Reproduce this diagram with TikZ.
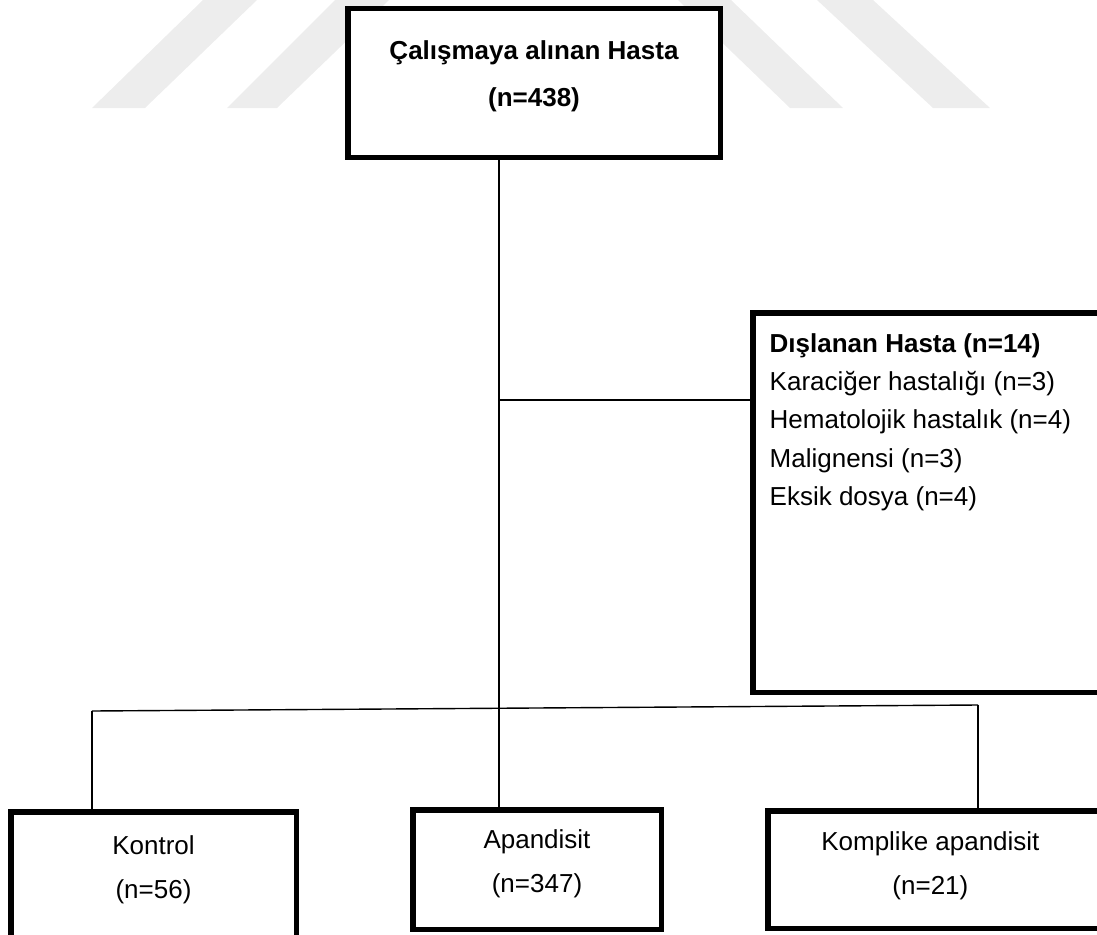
\documentclass[tikz,border=0pt]{standalone}
\usepackage{fontspec}
\setmainfont{Liberation Sans}
\usetikzlibrary{positioning}

\begin{document}
\begin{tikzpicture}
[x=1pt,y=-1pt,
frame/.style={draw=black,fill=white,line width=5.5pt,rectangle,inner sep=0pt},
boxtext/.style={inner sep=0pt,align=center,font=\fontsize{26pt}{43.5pt}\selectfont},
link/.style={draw=black,line width=1.4pt},
wmark/.style={fill=black!7,draw=none}]
\path[use as bounding box,clip] (0,0) rectangle (1097,934);
\fill[wmark] (92,108) -- (145,108) -- (257,0) -- (203,0) -- cycle;
\fill[wmark] (227,108) -- (277,108) -- (389,0) -- (335,0) -- cycle;
\fill[wmark] (790,108) -- (843,108) -- (731,0) -- (678,0) -- cycle;
\fill[wmark] (933,108) -- (990,108) -- (873,0) -- (817,0) -- cycle;
\node[frame,minimum width=372.5pt,minimum height=148.5pt] (hasta) at (534,83) {};
\node[boxtext,font=\fontsize{26pt}{47pt}\selectfont\bfseries,below=34.7pt of hasta.north] (hastatxt) {Çalışmaya alınan Hasta\\(n=438)};
\node[frame,minimum width=364pt,minimum height=379.5pt] (excl) at (935,502.5) {};
\node[boxtext,align=left,font=\fontsize{26pt}{38.3pt}\selectfont,below right=23.25pt and 19.25pt of excl.north west] (excltxt)
{\textbf{Dışlanan Hasta (n=14)}\\Karaciğer hastalığı (n=3)\\Hematolojik hastalık (n=4)\\Malignensi (n=3)\\Eksik dosya (n=4)};
\node[frame,minimum width=285.5pt,minimum height=148.25pt] (kontrol) at (153.5,885.9) {};
\node[frame,minimum width=248.5pt,minimum height=119.5pt] (apand) at (537,869.5) {};
\node[frame,minimum width=349.25pt,minimum height=117.5pt] (komplike) at (942.4,869.5) {};
\node[boxtext,below=26.65pt of kontrol.north] (kontroltxt) {Kontrol\\(n=56)};
\node[boxtext,below=22.65pt of apand.north] (apandtxt) {Apandisit\\(n=347)};
\node[boxtext,below=23.65pt of komplike.north,xshift=-12pt] (kompliketxt) {Komplike apandisit\\(n=21)};
\coordinate (split) at (499,400);
\coordinate (busL) at (92,711);
\coordinate (busR) at (978,705);
\draw[link] (hasta.south -| split) -- (apand.north -| split);
\draw[link] (split) -- (excl.west |- split);
\draw[link] (busL) -- (busR);
\draw[link] (busL) -- (busL |- kontrol.north);
\draw[link] (busR) -- (busR |- komplike.north);
\end{tikzpicture}
\end{document}
